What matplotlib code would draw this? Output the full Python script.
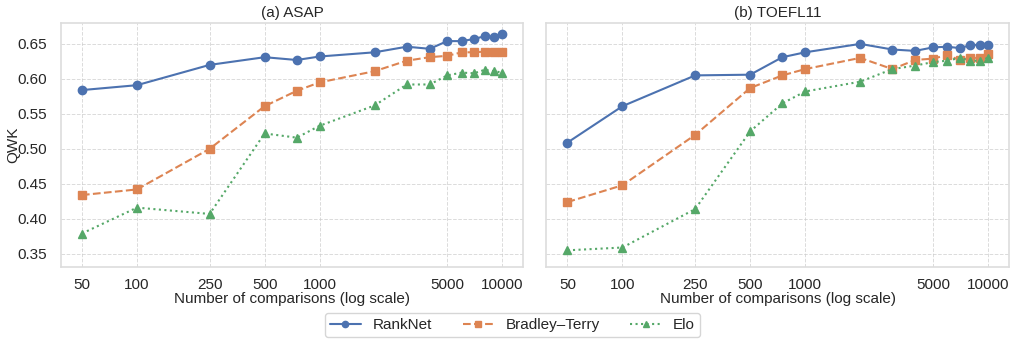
import numpy as np
import matplotlib
matplotlib.use("Agg")
import matplotlib.pyplot as plt
import seaborn as sns
from matplotlib.ticker import FixedLocator, NullLocator

# number of comparisons
n_comp = [50, 100, 250, 500, 750, 1000, 2000, 3000, 4000, 5000, 6000, 7000, 8000, 9000, 10000]
xticks = [50, 100, 250, 500, 1000, 5000, 10000]

# (a) ASAP
asap_ranknet = [0.584, 0.591, 0.620, 0.631, 0.627, 0.632, 0.638, 0.646, 0.643, 0.654, 0.654, 0.657, 0.661, 0.660, 0.664]
asap_bt = [0.434, 0.442, 0.500, 0.561, 0.583, 0.595, 0.611, 0.626, 0.631, 0.633, 0.638, 0.638, 0.639, 0.639, 0.638]
asap_elo = [0.379, 0.416, 0.407, 0.522, 0.516, 0.533, 0.562, 0.592, 0.592, 0.605, 0.609, 0.608, 0.613, 0.611, 0.609]

# (b) TOEFL11
toefl_ranknet = [0.509, 0.561, 0.605, 0.606, 0.631, 0.638, 0.650, 0.642, 0.640, 0.645, 0.646, 0.644, 0.648, 0.649, 0.648]
toefl_bt = [0.424, 0.448, 0.520, 0.587, 0.605, 0.614, 0.630, 0.614, 0.627, 0.629, 0.634, 0.627, 0.630, 0.630, 0.636]
toefl_elo = [0.355, 0.359, 0.414, 0.525, 0.565, 0.582, 0.596, 0.614, 0.619, 0.624, 0.626, 0.630, 0.626, 0.626, 0.630]

sns.set_theme(style="whitegrid", palette="deep")
plt.rcParams['font.family'] = ['Liberation Sans', 'DejaVu Sans']

colors = sns.color_palette("deep")

fig, axes = plt.subplots(1, 2, figsize=(10.15, 3.42), dpi=100, sharey=True)
fig.subplots_adjust(left=0.060, right=0.994, top=0.933, bottom=0.219, wspace=0.05)

panels = [
    ("(a) ASAP", asap_ranknet, asap_bt, asap_elo),
    ("(b) TOEFL11", toefl_ranknet, toefl_bt, toefl_elo),
]

for ax, (title, rn, bt, elo) in zip(axes, panels):
    ax.plot(n_comp, rn, color=colors[0], linestyle='-', marker='o', markersize=6, linewidth=1.5, label="RankNet")
    ax.plot(n_comp, bt, color=colors[1], linestyle='--', marker='s', markersize=6, linewidth=1.5, label="Bradley\u2013Terry")
    ax.plot(n_comp, elo, color=colors[2], linestyle=':', marker='^', markersize=6, linewidth=1.5, label="Elo")
    ax.set_xscale('log')
    ax.xaxis.set_major_locator(FixedLocator(xticks))
    ax.xaxis.set_minor_locator(NullLocator())
    ax.set_xticklabels([str(t) for t in xticks])
    ax.set_title(title, fontsize=11, pad=4)
    ax.set_xlabel("Number of comparisons (log scale)", fontsize=11, labelpad=0)
    ax.tick_params(axis='x', labelsize=11, pad=2)
    ax.tick_params(axis='y', labelsize=11, pad=4)
    ax.grid(True, linestyle='--', linewidth=0.7, alpha=0.7)
    for s in ax.spines.values():
        s.set_edgecolor('#dddddd')
        s.set_linewidth(1.2)

axes[0].set_ylim(0.331, 0.680)
axes[0].set_yticks([0.35, 0.40, 0.45, 0.50, 0.55, 0.60, 0.65])
axes[0].set_ylabel("QWK", fontsize=11)
axes[0].yaxis.set_label_coords(-0.088, 0.5)

handles, labels = axes[0].get_legend_handles_labels()
fig.legend(handles, labels, loc='upper center', bbox_to_anchor=(0.505, 0.108), ncol=3,
           fontsize=11, frameon=True, handlelength=2, columnspacing=2.0,
           markerscale=0.75, borderpad=0.35)

plt.savefig("out.png", dpi=100)
